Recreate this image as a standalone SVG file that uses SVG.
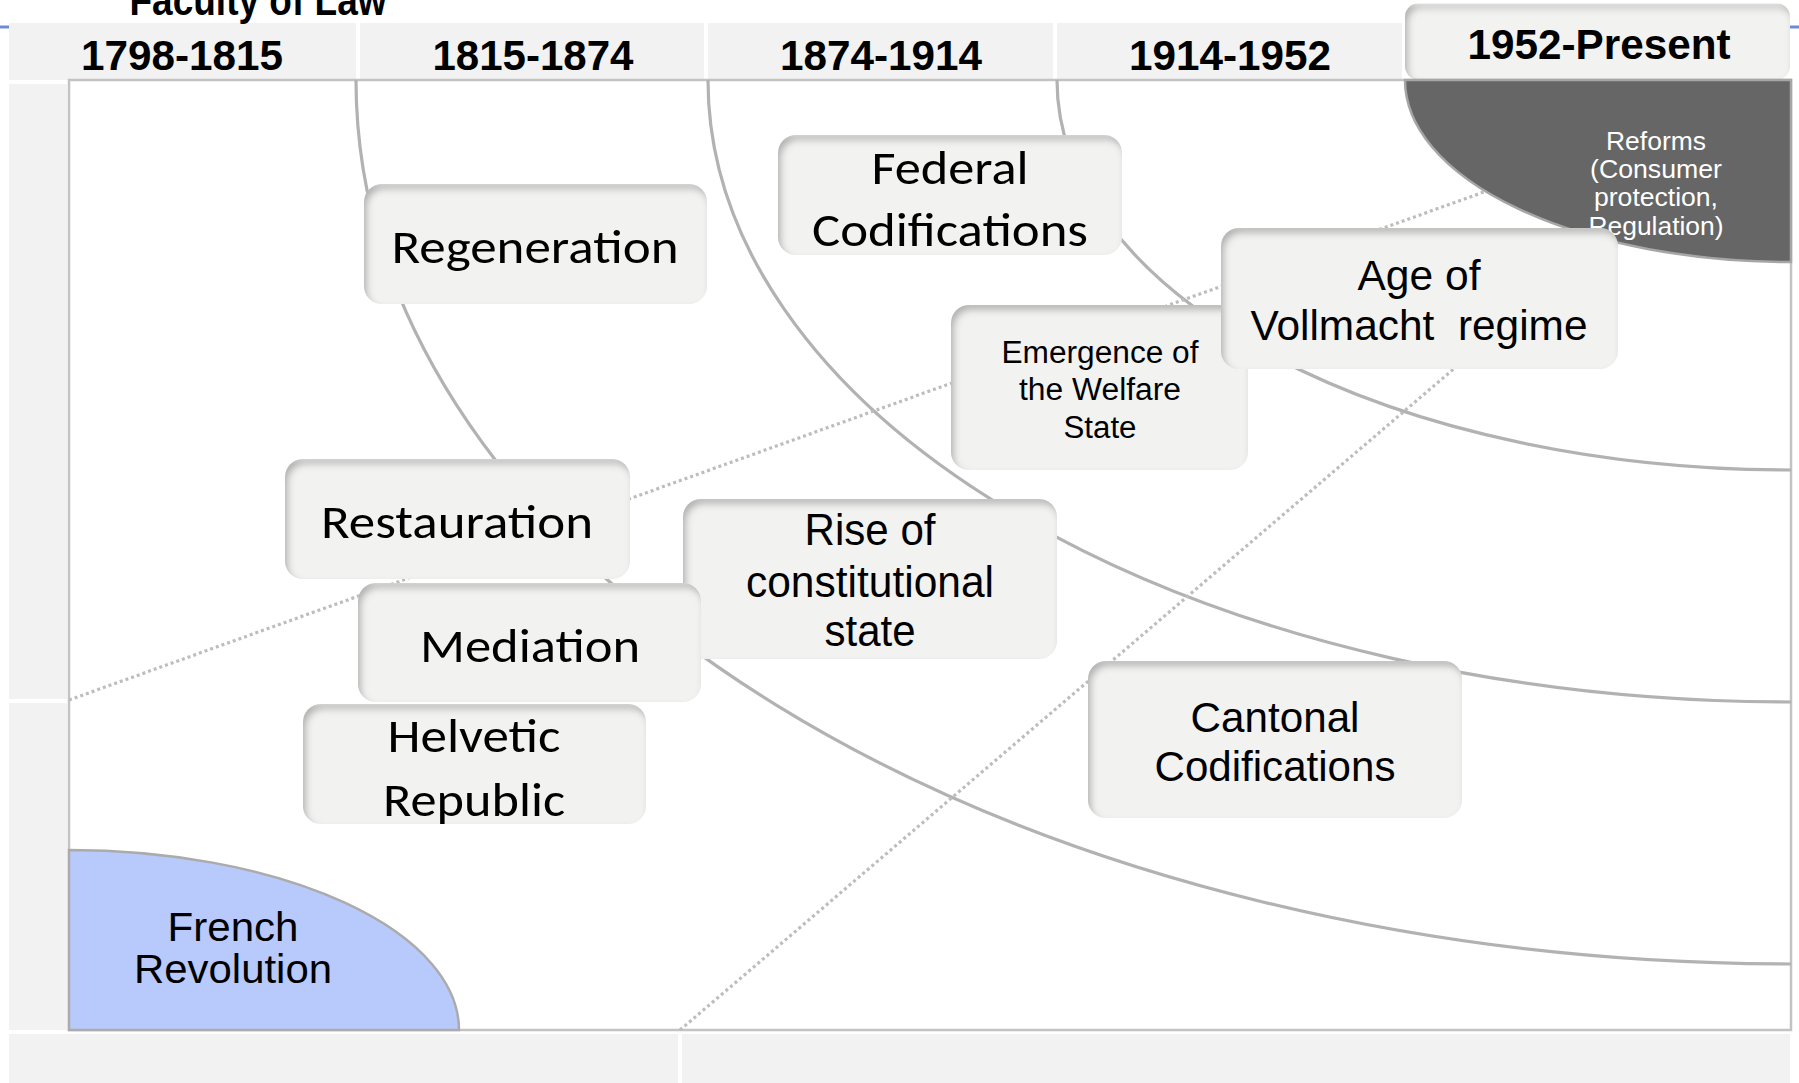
<svg xmlns="http://www.w3.org/2000/svg" width="1799" height="1083" viewBox="0 0 1799 1083">
<defs>
<filter id="inset" x="-5%" y="-5%" width="110%" height="110%">
 <feComponentTransfer in="SourceAlpha" result="inv"><feFuncA type="table" tableValues="1 0"/></feComponentTransfer>
 <feGaussianBlur in="inv" stdDeviation="3.5"/>
 <feOffset dx="3" dy="5" result="ob"/>
 <feFlood flood-color="#000" flood-opacity="0.5"/>
 <feComposite in2="ob" operator="in"/>
 <feComposite in2="SourceAlpha" operator="in" result="sh"/>
 <feMerge><feMergeNode in="SourceGraphic"/><feMergeNode in="sh"/></feMerge>
</filter>
</defs>
<style>
.bg{fill:#f2f2f2}
.box{fill:#f2f2f1;filter:url(#inset)}
.arc{fill:none;stroke:#b2b2b2;stroke-width:3.2}
.dot{fill:none;stroke:#bdbdbd;stroke-width:3.2;stroke-dasharray:3 3}
.cal{font-family:Carlito,Lato,"Open Sans",sans-serif;font-size:48px;fill:#000;text-anchor:middle}
.ari{font-family:"Liberation Sans",Arial,sans-serif;fill:#000;text-anchor:middle}
.hdr{font-family:"Liberation Sans",Arial,sans-serif;font-weight:bold;font-size:42px;fill:#000;text-anchor:middle}
</style>
<rect width="1799" height="1083" fill="#fff"/>
<g id="background">
 <line x1="0" y1="27" x2="10" y2="27" stroke="#7088d8" stroke-width="3"/>
 <line x1="1790" y1="27" x2="1799" y2="27" stroke="#7088d8" stroke-width="3"/>
 <rect class="bg" x="9" y="23" width="347" height="57"/>
 <rect class="bg" x="360" y="23" width="344" height="57"/>
 <rect class="bg" x="708" y="23" width="345" height="57"/>
 <rect class="bg" x="1057" y="23" width="345" height="57"/>
 <rect class="bg" x="9" y="84" width="58" height="615"/>
 <rect class="bg" x="9" y="703" width="58" height="327"/>
 <rect class="bg" x="9" y="1034" width="669" height="49"/>
 <rect class="bg" x="682" y="1034" width="1108" height="49"/>
 <text class="hdr" x="258" y="15" font-size="34" textLength="257" lengthAdjust="spacingAndGlyphs">Faculty of Law</text>
 <text class="hdr" x="182" y="70" textLength="202" lengthAdjust="spacingAndGlyphs">1798-1815</text>
 <text class="hdr" x="533" y="70" textLength="201" lengthAdjust="spacingAndGlyphs">1815-1874</text>
 <text class="hdr" x="881" y="70" textLength="202" lengthAdjust="spacingAndGlyphs">1874-1914</text>
 <text class="hdr" x="1230" y="70" textLength="202" lengthAdjust="spacingAndGlyphs">1914-1952</text>
 <rect x="1405" y="3" width="385" height="77" rx="14" class="box"/>
 <text class="hdr" x="1599" y="59" textLength="263" lengthAdjust="spacingAndGlyphs">1952-Present</text>
 <rect x="69" y="80" width="1722" height="950" fill="#fff" stroke="#c3c3c3" stroke-width="2.5"/>
</g>
<g id="french-revolution">
 <path d="M69 850 A390 180 0 0 1 459 1030 L69 1030 Z" fill="#b8c9fb" stroke="#ababab" stroke-width="2.5"/>
 <text class="ari" font-size="40" x="233" y="941" textLength="131" lengthAdjust="spacingAndGlyphs">French</text>
 <text class="ari" font-size="40" x="233" y="983" textLength="198" lengthAdjust="spacingAndGlyphs">Revolution</text>
</g>
<g id="connectors">
 <path class="arc" d="M356 80 A1435 884 0 0 0 1791 964"/>
 <path class="arc" d="M708 80 A1083 622 0 0 0 1791 702"/>
 <path class="arc" d="M1057 80 A734 390 0 0 0 1791 470"/>
 <line class="dot" x1="69" y1="700" x2="1495" y2="188"/>
 <line class="dot" x1="680" y1="1030" x2="1470" y2="355"/>
</g>
<g id="reforms">
 <path d="M1405 80 A386 182 0 0 0 1791 262 L1791 80 Z" fill="#666" stroke="#a6a6a6" stroke-width="2.5"/>
 <g class="ari" font-size="26">
  <text x="1656" y="150" style="fill:#fff" textLength="100" lengthAdjust="spacingAndGlyphs">Reforms</text>
  <text x="1656" y="178" style="fill:#fff" textLength="132" lengthAdjust="spacingAndGlyphs">(Consumer</text>
  <text x="1656" y="206" style="fill:#fff" textLength="124" lengthAdjust="spacingAndGlyphs">protection,</text>
  <text x="1656" y="235" style="fill:#fff" textLength="135" lengthAdjust="spacingAndGlyphs">Regulation)</text>
 </g>
</g>
<g id="regeneration">
 <rect class="box" x="364" y="184" width="343" height="120" rx="18"/>
 <text class="cal" x="535" y="263" textLength="287" lengthAdjust="spacingAndGlyphs">Regeneration</text>
</g>
<g id="federal-codifications">
 <rect class="box" x="778" y="135" width="344" height="120" rx="18"/>
 <text class="cal" x="950" y="184" textLength="157" lengthAdjust="spacingAndGlyphs">Federal</text>
 <text class="cal" x="950" y="246" textLength="276" lengthAdjust="spacingAndGlyphs">Codifications</text>
</g>
<g id="restauration">
 <rect class="box" x="285" y="459" width="345" height="120" rx="18"/>
 <text class="cal" x="457" y="538" textLength="272" lengthAdjust="spacingAndGlyphs">Restauration</text>
</g>
<g id="rise-of-constitutional-state">
 <rect class="box" x="683" y="499" width="374" height="160" rx="18"/>
 <text class="ari" font-size="44" x="870" y="545" textLength="131" lengthAdjust="spacingAndGlyphs">Rise of</text>
 <text class="ari" font-size="44" x="870" y="597" textLength="248" lengthAdjust="spacingAndGlyphs">constitutional</text>
 <text class="ari" font-size="44" x="870" y="646" textLength="91" lengthAdjust="spacingAndGlyphs">state</text>
</g>
<g id="mediation">
 <rect class="box" x="358" y="583" width="343" height="119" rx="18"/>
 <text class="cal" x="530" y="662" textLength="220" lengthAdjust="spacingAndGlyphs">Mediation</text>
</g>
<g id="helvetic-republic">
 <rect class="box" x="303" y="704" width="343" height="120" rx="18"/>
 <text class="cal" x="474" y="752" textLength="173" lengthAdjust="spacingAndGlyphs">Helvetic</text>
 <text class="cal" x="474" y="816" textLength="182" lengthAdjust="spacingAndGlyphs">Republic</text>
</g>
<g id="emergence-welfare-state">
 <rect class="box" x="951" y="305" width="297" height="165" rx="18"/>
 <text class="ari" font-size="31" x="1100" y="363" textLength="197" lengthAdjust="spacingAndGlyphs">Emergence of</text>
 <text class="ari" font-size="31" x="1100" y="400" textLength="162" lengthAdjust="spacingAndGlyphs">the Welfare</text>
 <text class="ari" font-size="31" x="1100" y="438" textLength="73" lengthAdjust="spacingAndGlyphs">State</text>
</g>
<g id="age-of-vollmacht">
 <rect class="box" x="1221" y="228" width="397" height="141" rx="18"/>
 <text class="ari" font-size="43" x="1419" y="290" textLength="123" lengthAdjust="spacingAndGlyphs">Age of</text>
 <text class="ari" font-size="43" x="1419" y="340" textLength="337" lengthAdjust="spacingAndGlyphs" xml:space="preserve">Vollmacht  regime</text>
</g>
<g id="cantonal-codifications">
 <rect class="box" x="1088" y="661" width="374" height="157" rx="18"/>
 <text class="ari" font-size="42" x="1275" y="732" textLength="169" lengthAdjust="spacingAndGlyphs">Cantonal</text>
 <text class="ari" font-size="42" x="1275" y="781" textLength="241" lengthAdjust="spacingAndGlyphs">Codifications</text>
</g>
</svg>
